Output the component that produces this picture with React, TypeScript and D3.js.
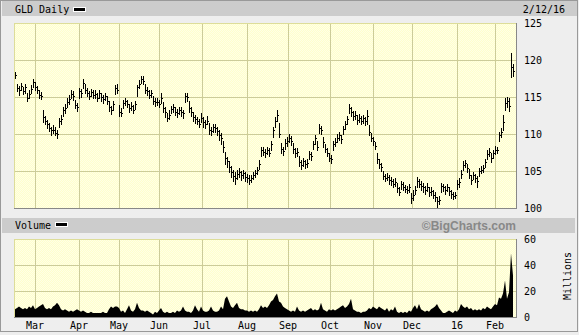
import React from 'react';
import * as d3 from 'd3';

const closes = [
  118.0, 116.2, 116.0, 116.5, 115.8, 116.3, 114.9, 115.4, 116.1, 117.0,
  116.4, 115.9, 115.3, 115.2, 112.3, 111.8, 111.4, 110.8, 110.5, 110.6,
  110.2, 110.0, 111.8, 112.0, 113.2, 113.5, 114.3, 114.7, 115.4, 115.2,
  113.9, 113.6, 115.8, 115.5, 116.9, 116.0, 115.6, 115.2, 115.7, 115.3,
  115.4, 114.9, 115.5, 115.0, 114.7, 115.1, 114.5, 113.6, 113.2, 114.0,
  116.2, 116.0, 113.0, 112.9, 114.2, 114.5, 114.0, 113.5, 113.8, 113.3,
  114.0, 116.3, 116.8, 117.5, 117.2, 116.0, 115.8, 115.3, 115.5, 114.5,
  114.3, 114.3, 114.0, 114.8, 113.5, 113.0, 112.2, 112.6, 113.4, 113.6,
  113.0, 112.8, 113.3, 113.0, 112.8, 115.2, 115.0, 113.5, 113.0, 112.3,
  112.0, 111.8, 111.4, 112.2, 111.6, 111.3, 111.8, 110.6, 110.4, 111.0,
  110.8, 110.4, 109.8, 109.5, 108.2, 106.7, 106.3, 105.6, 104.8, 104.3,
  104.0, 104.6, 104.9, 104.4, 104.7, 104.2, 104.0, 103.8, 104.0, 104.5,
  104.7, 105.1, 106.0, 107.8, 107.6, 107.4, 107.9, 107.5, 108.7, 110.5,
  111.8, 112.6, 110.0, 108.0, 107.7, 108.8, 109.0, 109.5, 109.0, 108.0,
  107.4, 107.6, 106.2, 105.8, 106.4, 105.9, 106.1, 107.3, 107.0, 108.7,
  109.4, 108.3, 110.8, 110.5, 108.9, 108.0, 107.5, 106.8, 106.6, 108.6,
  108.9, 109.5, 109.8, 109.3, 110.7, 111.3, 112.0, 113.5, 113.0, 112.4,
  112.6, 111.9, 112.2, 111.8, 112.1, 111.7, 112.5, 110.3, 109.5, 109.0,
  108.4, 106.6, 105.9, 105.5, 104.3, 104.1, 104.2, 103.8, 103.6, 103.3,
  103.5, 102.7, 102.2, 103.3, 102.9, 102.6, 102.5, 102.8, 101.3, 101.8,
  102.5, 103.6, 103.3, 103.0, 102.8, 102.4, 102.9, 102.1, 102.3, 101.8,
  101.5, 100.9, 101.1, 103.0, 102.8, 102.4, 102.8, 102.3, 101.9, 101.6,
  101.7, 103.3, 103.5, 104.6, 105.8, 106.1, 105.4, 104.5, 103.8, 104.4,
  104.0, 103.7, 105.0, 105.2, 105.4, 106.2, 107.3, 107.6, 106.7, 107.4,
  107.9, 107.9, 109.8, 110.3, 111.6, 114.2, 114.5, 113.8, 119.0, 118.5,
];

const highs = [
  118.4, 116.8, 116.5, 116.9, 116.4, 116.7, 115.6, 115.9, 116.6, 117.4,
  117.0, 116.5, 115.9, 115.7, 113.2, 112.5, 111.9, 111.5, 111.0, 111.2,
  110.9, 110.6, 112.1, 112.6, 113.6, 114.0, 114.8, 115.3, 115.9, 115.8,
  114.6, 114.2, 116.2, 116.1, 117.5, 116.8, 116.2, 115.8, 116.1, 115.9,
  115.9, 115.5, 115.9, 115.6, 115.3, 115.5, 115.2, 114.5, 113.8, 114.4,
  116.6, 116.8, 113.9, 113.5, 114.6, 114.9, 114.6, 114.1, 114.3, 113.9,
  114.4, 116.6, 117.3, 117.9, 117.8, 116.7, 116.3, 115.9, 115.9, 115.2,
  114.8, 114.9, 114.6, 115.5, 114.3, 113.6, 112.9, 113.2, 113.8, 114.1,
  113.7, 113.4, 113.7, 113.6, 113.3, 115.5, 115.6, 114.4, 113.6, 113.0,
  112.6, 112.3, 112.0, 112.8, 112.3, 111.9, 112.4, 111.5, 111.0, 111.4,
  111.3, 111.0, 110.5, 110.2, 109.0, 107.6, 106.9, 106.3, 105.7, 105.1,
  104.8, 105.2, 105.4, 105.0, 105.1, 104.8, 104.6, 104.4, 104.5, 104.9,
  105.2, 105.6, 106.5, 108.2, 108.2, 108.0, 108.3, 108.1, 109.1, 110.9,
  112.3, 113.3, 111.5, 108.8, 108.3, 109.3, 109.6, 110.0, 109.7, 108.8,
  108.1, 108.1, 107.0, 106.5, 106.8, 106.5, 106.6, 107.7, 107.6, 109.1,
  109.9, 109.0, 111.4, 111.1, 109.6, 108.7, 108.1, 107.4, 107.1, 109.0,
  109.4, 110.0, 110.3, 109.9, 111.1, 111.8, 112.5, 114.0, 113.6, 113.1,
  113.1, 112.6, 112.7, 112.4, 112.6, 112.3, 113.3, 111.2, 110.2, 109.6,
  108.9, 107.5, 106.6, 106.1, 105.0, 104.6, 104.7, 104.4, 104.2, 103.9,
  104.0, 103.4, 102.8, 103.7, 103.5, 103.1, 103.0, 103.2, 102.0, 102.4,
  103.0, 104.2, 103.9, 103.6, 103.4, 103.0, 103.4, 102.8, 102.8, 102.4,
  102.1, 101.5, 101.6, 103.4, 103.3, 103.0, 103.3, 102.9, 102.5, 102.1,
  102.1, 103.8, 104.0, 105.1, 106.3, 106.5, 106.0, 105.3, 104.5, 104.9,
  104.6, 104.3, 105.4, 105.7, 105.8, 106.6, 107.8, 108.1, 107.4, 107.8,
  108.4, 108.3, 110.3, 110.8, 112.6, 114.9, 115.0, 114.8, 121.0, 119.4,
];

const lows = [
  117.6, 115.8, 115.3, 115.9, 115.4, 115.6, 114.5, 114.8, 115.5, 116.3,
  116.0, 115.5, 114.8, 114.7, 111.6, 111.3, 110.8, 110.4, 109.9, 110.1,
  109.8, 109.5, 110.9, 111.4, 112.5, 112.9, 113.7, 114.1, 114.8, 114.6,
  113.5, 113.1, 114.9, 115.0, 116.2, 115.6, 115.1, 114.7, 115.1, 114.9,
  114.9, 114.4, 114.9, 114.5, 114.2, 114.6, 114.1, 113.1, 112.7, 113.3,
  115.4, 115.6, 112.5, 112.4, 113.5, 113.9, 113.6, 113.0, 113.2, 112.9,
  113.4, 115.2, 116.2, 116.9, 116.7, 115.6, 115.3, 114.9, 115.0, 114.1,
  113.8, 113.9, 113.6, 114.2, 113.0, 112.3, 111.7, 112.0, 112.8, 113.0,
  112.6, 112.3, 112.7, 112.5, 112.2, 114.3, 114.5, 113.0, 112.5, 111.8,
  111.5, 111.3, 110.9, 111.6, 111.0, 110.8, 111.3, 110.0, 109.9, 110.3,
  110.3, 109.9, 109.2, 108.6, 107.6, 106.0, 105.5, 104.9, 104.2, 103.6,
  103.3, 103.9, 104.2, 103.8, 104.0, 103.7, 103.5, 103.2, 103.5, 103.9,
  104.2, 104.6, 105.3, 107.0, 107.1, 106.9, 107.3, 107.0, 107.9, 109.6,
  110.9, 111.8, 109.6, 107.5, 107.2, 108.0, 108.4, 108.9, 108.5, 107.5,
  106.9, 107.0, 105.7, 105.3, 105.7, 105.4, 105.6, 106.6, 106.5, 108.0,
  108.7, 107.8, 110.2, 110.0, 108.3, 107.6, 107.0, 106.4, 106.1, 107.9,
  108.4, 108.9, 109.2, 108.8, 110.0, 110.7, 111.4, 112.8, 112.4, 111.9,
  112.0, 111.4, 111.6, 111.3, 111.5, 111.2, 111.3, 109.8, 109.0, 108.5,
  108.0, 106.1, 105.4, 105.0, 103.9, 103.7, 103.8, 103.3, 103.1, 102.8,
  103.0, 102.2, 101.7, 102.6, 102.4, 102.1, 102.0, 102.2, 100.7, 101.1,
  101.9, 102.9, 102.8, 102.5, 102.2, 101.9, 102.3, 101.6, 101.7, 101.3,
  101.0, 100.2, 100.6, 102.2, 102.3, 101.9, 102.3, 101.8, 101.4, 101.2,
  101.3, 102.6, 102.9, 104.0, 105.1, 105.5, 104.9, 104.0, 103.3, 103.9,
  103.5, 102.9, 104.3, 104.7, 104.9, 105.5, 106.6, 107.0, 106.2, 106.8,
  107.3, 107.4, 109.0, 109.6, 110.5, 113.2, 113.6, 113.1, 117.7, 117.9,
];

const volumes = [
  6, 7, 8, 7, 6, 7, 6, 8, 7, 9,
  6, 7, 8, 9, 10, 7, 6, 7, 6, 8,
  9, 11, 9, 6, 5, 6, 5, 4, 5, 4,
  5, 6, 5, 4, 5, 4, 3, 3, 4, 3,
  3, 3, 3, 3, 4, 3, 3, 6, 8, 7,
  8, 8, 7, 4, 5, 3, 6, 9, 5, 4,
  6, 11, 7, 5, 5, 4, 5, 4, 3, 2,
  4, 3, 5, 7, 4, 3, 4, 3, 3, 4,
  3, 5, 4, 5, 8, 5, 4, 4, 3, 5,
  9, 6, 4, 8, 5, 4, 4, 5, 8, 5,
  4, 4, 5, 8, 6, 14, 16, 12, 8, 7,
  9, 11, 7, 6, 6, 5, 5, 4, 5, 4,
  5, 4, 6, 9, 7, 8, 7, 9, 12, 13,
  16, 18, 12, 11, 8, 7, 6, 5, 4, 5,
  4, 8, 5, 4, 5, 4, 5, 6, 7, 5,
  6, 5, 6, 11, 6, 5, 4, 6, 5, 6,
  5, 6, 7, 8, 9, 7, 8, 10, 14, 6,
  5, 4, 4, 3, 4, 4, 5, 7, 6, 8,
  7, 6, 8, 7, 6, 5, 7, 4, 6, 5,
  8, 4, 3, 4, 3, 4, 3, 5, 4, 7,
  9, 6, 10, 6, 5, 4, 5, 4, 6, 7,
  8, 10, 7, 5, 3, 3, 4, 5, 4, 3,
  5, 4, 6, 10, 8, 7, 8, 6, 7, 5,
  6, 5, 6, 5, 7, 6, 8, 7, 6, 8,
  10, 9, 15, 14, 18, 28, 14, 19, 49, 32,
];

const monthLabels = ['Mar', 'Apr', 'May', 'Jun', 'Jul', 'Aug', 'Sep', 'Oct', 'Nov', 'Dec', '16', 'Feb'];
const monthStarts = [10, 32, 52, 72, 93.5, 116, 136.5, 157.5, 179, 198.5, 221, 240];
const priceTicks = [100, 105, 110, 115, 120, 125];
const volumeTicks = [0, 20, 40, 60];

const MONO = '"DejaVu Sans Mono", "Liberation Mono", monospace';

export default function App() {
  const W = 579;
  const H = 335;
  const plotL = 14;
  const plotR = 516;
  const priceT = 23;
  const priceB = 208;
  const volT = 239;
  const volB = 317;

  const n = closes.length;
  const x = d3.scaleLinear().domain([0, n - 1]).range([15, 15 + 2 * (n - 1)]);
  const y = d3.scaleLinear().domain([100, 125]).range([priceB, priceT]);
  const vy = d3.scaleLinear().domain([0, 60]).range([volB, volT]);

  const area = d3
    .area<number>()
    .x((_, i) => x(i))
    .y0(vy(0))
    .y1((d) => vy(d))
    .curve(d3.curveLinear);

  const grid = '#cccc99';
  const px = (v: number) => Math.round(v) + 0.5;

  return (
    <div style={{ position: 'fixed', left: 0, top: 0 }}>
      <svg width={W} height={H} style={{ display: 'block' }}>
        <defs>
          <pattern id="dots" width="2" height="2" patternUnits="userSpaceOnUse">
            <rect width="2" height="2" fill="#ffffcc" />
            <rect width="1" height="1" fill="#ffffe6" />
            <rect x="1" y="1" width="1" height="1" fill="#ffffe6" />
          </pattern>
        </defs>
        <rect x={0} y={0} width={W} height={H} fill="#eeeeee" />
        <rect x={0.5} y={0.5} width={W - 2} height={H - 4} fill="none" stroke="#999999" />
        <rect x={2} y={1} width={W - 4} height={15} fill="#cccccc" />
        <rect x={2} y={218} width={W - 6} height={15} fill="#cccccc" />

        <text x={15} y={13} fontFamily={MONO} fontSize={10} fill="#000">GLD Daily</text>
        <rect x={73.5} y={7.5} width={12} height={4} fill="#000" stroke="#fff" strokeWidth={1} />
        <text x={565} y={13} fontFamily={MONO} fontSize={10} fill="#000" textAnchor="end">2/12/16</text>

        <text x={15} y={229} fontFamily={MONO} fontSize={10} fill="#000">Volume</text>
        <rect x={55.5} y={222.5} width={12} height={4} fill="#000" stroke="#fff" strokeWidth={1} />
        <text x={516} y={230} fontFamily='"Liberation Sans", Arial, sans-serif' fontWeight="bold" fontSize={12} fill="#888888" textAnchor="end">©BigCharts.com</text>

        <rect x={plotL} y={priceT} width={plotR - plotL} height={priceB - priceT} fill="url(#dots)" />
        <g shapeRendering="crispEdges">
          {priceTicks.slice(1, -1).map((t) => (
            <line key={'pg' + t} x1={plotL} x2={plotR} y1={px(y(t))} y2={px(y(t))} stroke={grid} />
          ))}
          {monthStarts.map((m, k) => (
            <line key={'mg' + k} x1={px(x(m))} x2={px(x(m))} y1={priceT} y2={priceB} stroke={grid} />
          ))}
          <line x1={plotL} x2={plotR} y1={priceT + 0.5} y2={priceT + 0.5} stroke="#dddd99" />
          <line x1={plotL + 0.5} x2={plotL + 0.5} y1={priceT} y2={priceB} stroke="#dddd99" />
          <line x1={plotL} x2={plotR + 1} y1={priceB + 0.5} y2={priceB + 0.5} stroke="#888888" />
          <line x1={plotR + 0.5} x2={plotR + 0.5} y1={priceT} y2={priceB + 1} stroke="#888888" />
        </g>
        <g shapeRendering="crispEdges" stroke="#000">
          {closes.map((c, i) => {
            const xi = px(x(i));
            return (
              <g key={'b' + i}>
                <line x1={xi} x2={xi} y1={Math.round(y(highs[i]))} y2={Math.round(y(lows[i])) + 1} />
                <line x1={xi} x2={xi + 1.5} y1={px(y(c))} y2={px(y(c))} />
              </g>
            );
          })}
        </g>
        {priceTicks.map((t) => (
          <text key={'pl' + t} x={524} y={y(t) + 4} fontFamily={MONO} fontSize={10} fill="#000">{t}</text>
        ))}

        <rect x={plotL} y={volT} width={plotR - plotL} height={volB - volT} fill="url(#dots)" />
        <g shapeRendering="crispEdges">
          {volumeTicks.slice(1, -1).map((t) => (
            <line key={'vg' + t} x1={plotL} x2={plotR} y1={px(vy(t))} y2={px(vy(t))} stroke={grid} />
          ))}
          {monthStarts.map((m, k) => (
            <line key={'vmg' + k} x1={px(x(m))} x2={px(x(m))} y1={volT} y2={volB} stroke={grid} />
          ))}
          <line x1={plotL} x2={plotR} y1={volT + 0.5} y2={volT + 0.5} stroke="#dddd99" />
          <line x1={plotL + 0.5} x2={plotL + 0.5} y1={volT} y2={volB} stroke="#dddd99" />
        </g>
        <path d={area(volumes) || ''} fill="#000" />
        <g shapeRendering="crispEdges">
          <line x1={plotL} x2={plotR + 1} y1={volB + 0.5} y2={volB + 0.5} stroke="#888888" />
          <line x1={plotR + 0.5} x2={plotR + 0.5} y1={volT} y2={volB + 1} stroke="#888888" />
        </g>
        {volumeTicks.map((t) => (
          <text key={'vl' + t} x={524} y={vy(t) + 4} fontFamily={MONO} fontSize={10} fill="#000">{t}</text>
        ))}
        <text
          transform={`translate(571, 276) rotate(-90)`}
          fontFamily={MONO}
          fontSize={10}
          fill="#000"
          textAnchor="middle"
        >Millions</text>

        {monthLabels.map((lab, k) => (
          <text key={'ml' + k} x={x(monthStarts[k])} y={329} fontFamily={MONO} fontSize={10} fill="#000" textAnchor="middle">{lab}</text>
        ))}
      </svg>
    </div>
  );
}
